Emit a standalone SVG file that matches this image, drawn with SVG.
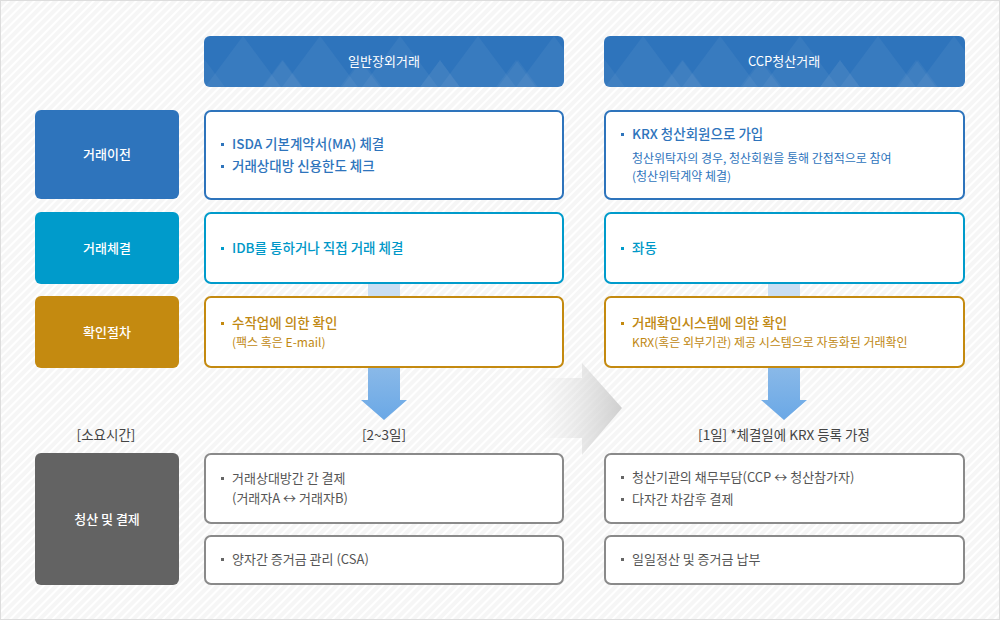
<svg xmlns="http://www.w3.org/2000/svg" width="1000" height="620" viewBox="0 0 1000 620">
<defs>
<pattern id="hatch" width="6" height="6" patternUnits="userSpaceOnUse" patternTransform="rotate(-45)">
<rect width="6" height="6" fill="#f6f6f6"/>
<rect width="6" height="2" fill="#ffffff"/>
</pattern>
<linearGradient id="garr" x1="0" y1="0" x2="1" y2="0">
<stop offset="0" stop-color="#e0e0e0" stop-opacity="0"/>
<stop offset="1" stop-color="#cfcfcf"/>
</linearGradient>
<linearGradient id="barr" x1="0" y1="0" x2="0" y2="1">
<stop offset="0" stop-color="#8ab9e8"/>
<stop offset="1" stop-color="#6aa8e6"/>
</linearGradient>
<clipPath id="hc1"><rect x="204" y="36" width="360" height="51" rx="6"/></clipPath>
<clipPath id="hc2"><rect x="604" y="36" width="361" height="51" rx="6"/></clipPath>
<g id="tri">
<path d="M0,51 L38,0 L76,51 Z" fill="#ffffff" fill-opacity="0.05"/>
<path d="M-20,51 L0,24 L20,51 Z" fill="#ffffff" fill-opacity="0.045"/>
<path d="M58,51 L78,24 L98,51 Z" fill="#ffffff" fill-opacity="0.045"/>
</g>
</defs>
<style>
.lbl{font-family:"Noto Sans CJK KR","Noto Sans",sans-serif;font-size:13px;fill:#ffffff;text-anchor:middle;font-weight:500}
.hdr{font-family:"Noto Sans CJK KR","Noto Sans",sans-serif;font-size:13px;fill:#ffffff;text-anchor:middle}
.t{font-family:"Noto Sans CJK KR","Noto Sans",sans-serif;font-size:13.5px;font-weight:500}
.s{font-family:"Noto Sans CJK KR","Noto Sans",sans-serif;font-size:12px}
.g{font-family:"Noto Sans CJK KR","Noto Sans",sans-serif;font-size:13px;fill:#555555}
.cap{font-family:"Noto Sans CJK KR","Noto Sans",sans-serif;font-size:13.5px;fill:#444444;text-anchor:middle}
.blue{fill:#2e74bc}
.cyan{fill:#0098c8}
.gold{fill:#c08812}
.bx{fill:#ffffff;stroke-width:2}
</style>
<rect x="0.5" y="0.5" width="999" height="619" fill="url(#hatch)" stroke="#dddddd"/>

<g id="connectors">
<rect x="368" y="283" width="32" height="14" fill="#c9def3"/>
<rect x="768" y="283" width="32" height="14" fill="#c9def3"/>
<path d="M368,367 H400 V400 H407 L384,420 L361,400 H368 Z" fill="url(#barr)"/>
<path d="M768,367 H800 V400 H807 L784,420 L761,400 H768 Z" fill="url(#barr)"/>
<path d="M540,378 H582 V363 L622,408 L582,455 V438 H540 Z" fill="url(#garr)"/>
</g>

<g id="header-left">
<rect x="204" y="36" width="360" height="51" rx="6" fill="#2e74bc"/>
<g clip-path="url(#hc1)">
<use href="#tri" x="205" y="36"/><use href="#tri" x="282" y="36"/><use href="#tri" x="362" y="36"/><use href="#tri" x="440" y="36"/><use href="#tri" x="516" y="36"/>
</g>
<text class="hdr" x="384" y="66">일반장외거래</text>
</g>
<g id="header-right">
<rect x="604" y="36" width="361" height="51" rx="6" fill="#2e74bc"/>
<g clip-path="url(#hc2)">
<use href="#tri" x="605" y="36"/><use href="#tri" x="682" y="36"/><use href="#tri" x="762" y="36"/><use href="#tri" x="840" y="36"/><use href="#tri" x="916" y="36"/>
</g>
<text class="hdr" x="784" y="66">CCP청산거래</text>
</g>

<g id="label-transfer">
<rect x="35" y="110" width="144" height="89" rx="6" fill="#2e74bc"/>
<text class="lbl" x="107" y="159">거래이전</text>
</g>
<g id="label-execution">
<rect x="35" y="212" width="144" height="72" rx="6" fill="#009bcb"/>
<text class="lbl" x="107" y="253">거래체결</text>
</g>
<g id="label-confirm">
<rect x="35" y="296" width="144" height="72" rx="6" fill="#c48a10"/>
<text class="lbl" x="107" y="337">확인절차</text>
</g>
<g id="label-settle">
<rect x="35" y="453" width="144" height="132" rx="6" fill="#636363"/>
<text class="lbl" x="107" y="524">청산 및 결제</text>
</g>

<g id="l-transfer">
<rect class="bx" x="205" y="111" width="358" height="88" rx="6" stroke="#2e74bc"/>
<rect x="221" y="143" width="3" height="3" fill="#2e74bc"/>
<text class="t blue" x="232" y="149">ISDA 기본계약서(MA) 체결</text>
<rect x="221" y="165" width="3" height="3" fill="#2e74bc"/>
<text class="t blue" x="232" y="171">거래상대방 신용한도 체크</text>
</g>
<g id="r-transfer">
<rect class="bx" x="605" y="111" width="359" height="88" rx="6" stroke="#2e74bc"/>
<rect x="621" y="133" width="3" height="3" fill="#2e74bc"/>
<text class="t blue" x="632" y="139">KRX 청산회원으로 가입</text>
<text class="s blue" x="632" y="163">청산위탁자의 경우, 청산회원을 통해 간접적으로 참여</text>
<text class="s blue" x="632" y="181">(청산위탁계약 체결)</text>
</g>
<g id="l-execution">
<rect class="bx" x="205" y="213" width="358" height="70" rx="6" stroke="#009bcb"/>
<rect x="221" y="247" width="3" height="3" fill="#009bcb"/>
<text class="t cyan" x="232" y="253">IDB를 통하거나 직접 거래 체결</text>
</g>
<g id="r-execution">
<rect class="bx" x="605" y="213" width="359" height="70" rx="6" stroke="#009bcb"/>
<rect x="621" y="247" width="3" height="3" fill="#009bcb"/>
<text class="t cyan" x="632" y="253">좌동</text>
</g>
<g id="l-confirm">
<rect class="bx" x="205" y="297" width="358" height="70" rx="6" stroke="#c48a10"/>
<rect x="221" y="322" width="3" height="3" fill="#c48a10"/>
<text class="t gold" x="232" y="328">수작업에 의한 확인</text>
<text class="s gold" x="232" y="347">(팩스 혹은 E-mail)</text>
</g>
<g id="r-confirm">
<rect class="bx" x="605" y="297" width="359" height="70" rx="6" stroke="#c48a10"/>
<rect x="621" y="322" width="3" height="3" fill="#c48a10"/>
<text class="t gold" x="632" y="328">거래확인시스템에 의한 확인</text>
<text class="s gold" x="632" y="347">KRX(혹은 외부기관) 제공 시스템으로 자동화된 거래확인</text>
</g>

<text class="cap" x="106" y="440">[소요시간]</text>
<text class="cap" x="384" y="440">[2~3일]</text>
<text class="cap" x="784" y="440">[1일] *체결일에 KRX 등록 가정</text>

<g id="l-settle1">
<rect class="bx" x="205" y="454" width="358" height="69" rx="6" stroke="#8a8a8a"/>
<rect x="221" y="477" width="3" height="3" fill="#666666"/>
<text class="g" x="232" y="483">거래상대방간 간 결제</text>
<text class="g" x="232" y="503">(거래자A ↔ 거래자B)</text>
</g>
<g id="l-settle2">
<rect class="bx" x="205" y="536" width="358" height="48" rx="6" stroke="#8a8a8a"/>
<rect x="221" y="558" width="3" height="3" fill="#666666"/>
<text class="g" x="232" y="564">양자간 증거금 관리 (CSA)</text>
</g>
<g id="r-settle1">
<rect class="bx" x="605" y="454" width="359" height="69" rx="6" stroke="#8a8a8a"/>
<rect x="621" y="476" width="3" height="3" fill="#666666"/>
<text class="g" x="632" y="482">청산기관의 채무부담(CCP ↔ 청산참가자)</text>
<rect x="621" y="498" width="3" height="3" fill="#666666"/>
<text class="g" x="632" y="504">다자간 차감후 결제</text>
</g>
<g id="r-settle2">
<rect class="bx" x="605" y="536" width="359" height="48" rx="6" stroke="#8a8a8a"/>
<rect x="621" y="558" width="3" height="3" fill="#666666"/>
<text class="g" x="632" y="564">일일정산 및 증거금 납부</text>
</g>
</svg>
